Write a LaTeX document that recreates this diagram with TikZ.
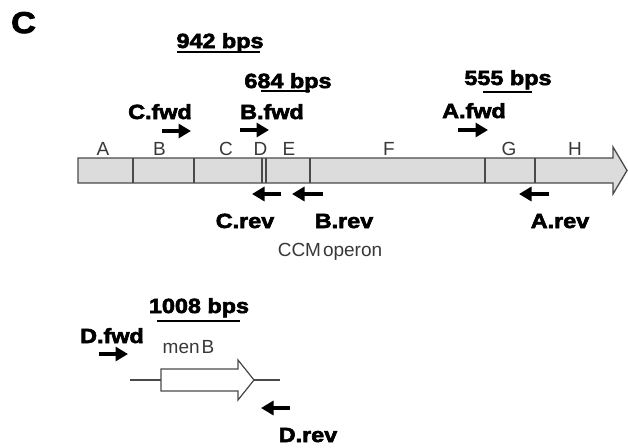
\documentclass[tikz,border=0pt]{standalone}
\usepackage{fontspec}
\setmainfont{Liberation Sans}
\newfontfamily\heavy[FakeBold=3,FakeStretch=1.14]{Liberation Sans Bold}
\usetikzlibrary{arrows.meta}
\definecolor{barfill}{HTML}{DCDCDC}
\definecolor{edge}{HTML}{4A4A4A}
\definecolor{labelgray}{HTML}{383838}
\tikzset{
  primer/.style={line width=3.4pt,-{Triangle[length=12.5pt,width=14pt]}},
  heavylabel/.style={anchor=base,inner sep=0pt,font=\heavy\fontsize{20.5}{20.5}\selectfont},
  sizelabel/.style={anchor=base,inner sep=0pt,font=\heavy\fontsize{20.5}{20.5}\selectfont},
  genelabel/.style={anchor=base,inner sep=0pt,text=labelgray,font=\fontsize{19}{19}\selectfont},
  span/.style={line width=1.5pt},
  divider/.style={edge,line width=1.3pt},
}
\begin{document}
\begin{tikzpicture}[x=1pt,y=-1pt]
\useasboundingbox (0,0) rectangle (628,447);

% panel letter
\node[anchor=base,inner sep=0pt,font=\heavy\fontsize{30}{30}\selectfont] (panel) at (23.5,33) {C};

% CCM operon as a block arrow
\draw[edge,fill=barfill,line width=1.3pt,line join=miter]
  (78,158) -- (613,158) -- (613,147) -- (627,170.5) -- (613,194) -- (613,183) -- (78,183) -- cycle;
\foreach \x in {133,194,262,266,310,485,535}
  \draw[divider] (\x,158) -- (\x,183);

% gene names
\foreach \g/\x in {A/103,B/159.5,C/226,D/260.5,E/289,F/389,G/509,H/575}
  \node[genelabel] (gene\g) at (\x,155) {\g};

\node[genelabel] (ccm) at (330,256) {CCM\hspace{2pt}operon};

% product sizes
\node[sizelabel] (s942) at (220,48) {942 bps};
\coordinate (s942a) at (177,52); \coordinate (s942b) at (260,52);
\draw[span] (s942a) -- (s942b);
\node[sizelabel] (s684) at (288,88) {684 bps};
\coordinate (s684a) at (261,91); \coordinate (s684b) at (310,91);
\draw[span] (s684a) -- (s684b);
\node[sizelabel] (s555) at (508,85) {555 bps};
\coordinate (s555a) at (483,92); \coordinate (s555b) at (532,92);
\draw[span] (s555a) -- (s555b);

% forward primers
\node[heavylabel] (cfwd) at (160,119) {C.fwd};
\node[heavylabel] (bfwd) at (272,119) {B.fwd};
\node[heavylabel] (afwd) at (474,118) {A.fwd};
\coordinate (cf1) at (162,131); \coordinate (cf2) at (191,131);
\coordinate (bf1) at (240,130); \coordinate (bf2) at (269,130);
\coordinate (af1) at (458,130); \coordinate (af2) at (488,130);
\draw[primer] (cf1) -- (cf2);
\draw[primer] (bf1) -- (bf2);
\draw[primer] (af1) -- (af2);

% reverse primers
\node[heavylabel] (crev) at (245,228) {C.rev};
\node[heavylabel] (brev) at (344,228) {B.rev};
\node[heavylabel] (arev) at (560,228) {A.rev};
\coordinate (cr1) at (281,194); \coordinate (cr2) at (252,194);
\coordinate (br1) at (323,194); \coordinate (br2) at (292,194);
\coordinate (ar1) at (549,194); \coordinate (ar2) at (519,194);
\draw[primer] (cr1) -- (cr2);
\draw[primer] (br1) -- (br2);
\draw[primer] (ar1) -- (ar2);

% menB locus
\coordinate (flankL) at (130,380); \coordinate (flankR) at (280,380);
\draw[edge,line width=1.2pt] (flankL) -- (flankR);
\draw[edge,fill=white,line width=1.2pt,line join=miter]
  (161,369) -- (238,369) -- (238,360) -- (254,380) -- (238,400) -- (238,391) -- (161,391) -- cycle;
\node[genelabel] (menb) at (188.5,353) {men\hspace{2pt}B};

\node[sizelabel] (s1008) at (199,313) {1008 bps};
\coordinate (s1008a) at (157,321); \coordinate (s1008b) at (240,321);
\draw[span] (s1008a) -- (s1008b);

\node[heavylabel] (dfwd) at (112,343) {D.fwd};
\coordinate (df1) at (99,354); \coordinate (df2) at (128,354);
\draw[primer] (df1) -- (df2);

\node[heavylabel] (drev) at (308,442) {D.rev};
\coordinate (dr1) at (290,408); \coordinate (dr2) at (261,408);
\draw[primer] (dr1) -- (dr2);
\end{tikzpicture}
\end{document}
